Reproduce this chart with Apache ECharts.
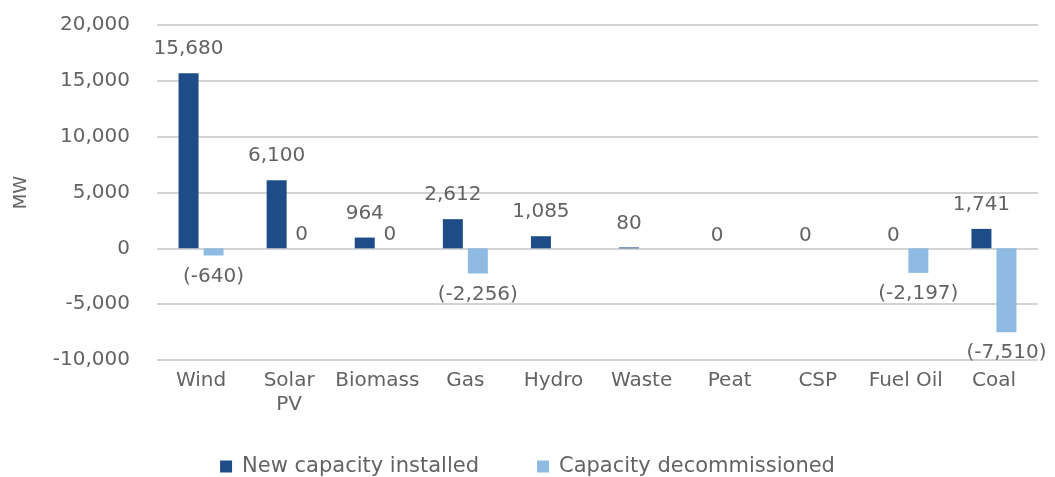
<!DOCTYPE html>
<html>
<head>
<meta charset="utf-8">
<script src="https://cdn.jsdelivr.net/npm/echarts@6/dist/echarts.min.js"></script>
<style>
html,body{margin:0;padding:0;background:#fff;}
#chart{width:1055px;height:477px;}
</style>
</head>
<body>
<div id="chart"></div>
<script>
var categories = ['Wind', 'Solar\nPV', 'Biomass', 'Gas', 'Hydro', 'Waste', 'Peat', 'CSP', 'Fuel Oil', 'Coal'];
var newCapacity = [15680, 6100, 964, 2612, 1085, 80, 0, 0, 0, 1741];
var decommissioned = [-640, 0, 0, -2256, null, null, null, null, -2197, -7510];
var seriesNames = ['New capacity installed', 'Capacity decommissioned'];
var yTicks = { min: -10000, max: 20000, interval: 5000 };

var FONT = 'DejaVu Sans';
var TXT = '#636363';
function fmt(v) { return Number(v).toLocaleString('en-US'); }

function buildNew(arr) {
  return arr.map(function (v) {
    if (v === 0) return { value: v, label: { distance: 3 } };
    return v;
  });
}
function buildDec(arr) {
  return arr.map(function (v) {
    if (v === null) return null;
    if (v === 0) return { value: v, label: { position: 'top', distance: 4, formatter: '0' } };
    return v;
  });
}

var chart = echarts.init(document.getElementById('chart'), null, { renderer: 'canvas' });
chart.setOption({
  animation: false,
  backgroundColor: '#fff',
  textStyle: { fontFamily: FONT },
  grid: { left: 157, right: 17, top: 25, bottom: 117 },
  legend: {
    data: seriesNames,
    left: 'center',
    top: 451,
    icon: 'rect',
    itemWidth: 12,
    itemHeight: 12,
    itemGap: 58,
    textStyle: { fontFamily: FONT, fontSize: 21, color: TXT, padding: [0, 0, 0, 5] }
  },
  xAxis: {
    type: 'category',
    data: categories,
    axisLine: { show: false, onZero: false },
    axisTick: { show: false },
    axisLabel: { fontFamily: FONT, fontSize: 20, color: TXT, margin: 9, lineHeight: 24, interval: 0 }
  },
  yAxis: {
    type: 'value',
    min: yTicks.min,
    max: yTicks.max,
    interval: yTicks.interval,
    name: 'MW',
    nameLocation: 'middle',
    nameGap: 127,
    nameRotate: 90,
    nameTextStyle: { fontFamily: FONT, fontSize: 18, color: TXT },
    axisLine: { show: false },
    axisTick: { show: false },
    axisLabel: { fontFamily: FONT, fontSize: 20, color: TXT, margin: 27, formatter: fmt },
    splitLine: { lineStyle: { color: '#c4c4c4', width: 1.5 } }
  },
  series: [
    {
      name: seriesNames[0],
      type: 'bar',
      data: buildNew(newCapacity),
      barWidth: 20,
      barGap: '25%',
      itemStyle: { color: '#1e4c88' },
      label: {
        show: true, position: 'top', distance: 14,
        fontFamily: FONT, fontSize: 20, color: TXT,
        formatter: function (p) { return fmt(p.value); }
      }
    },
    {
      name: seriesNames[1],
      type: 'bar',
      data: buildDec(decommissioned),
      barWidth: 20,
      barGap: '25%',
      itemStyle: { color: '#8fbbe3' },
      label: {
        show: true, position: 'bottom', distance: 11,
        fontFamily: FONT, fontSize: 20, color: TXT,
        formatter: function (p) { return p.value === 0 ? '0' : '(' + fmt(p.value) + ')'; }
      }
    }
  ]
});
</script>
</body>
</html>
